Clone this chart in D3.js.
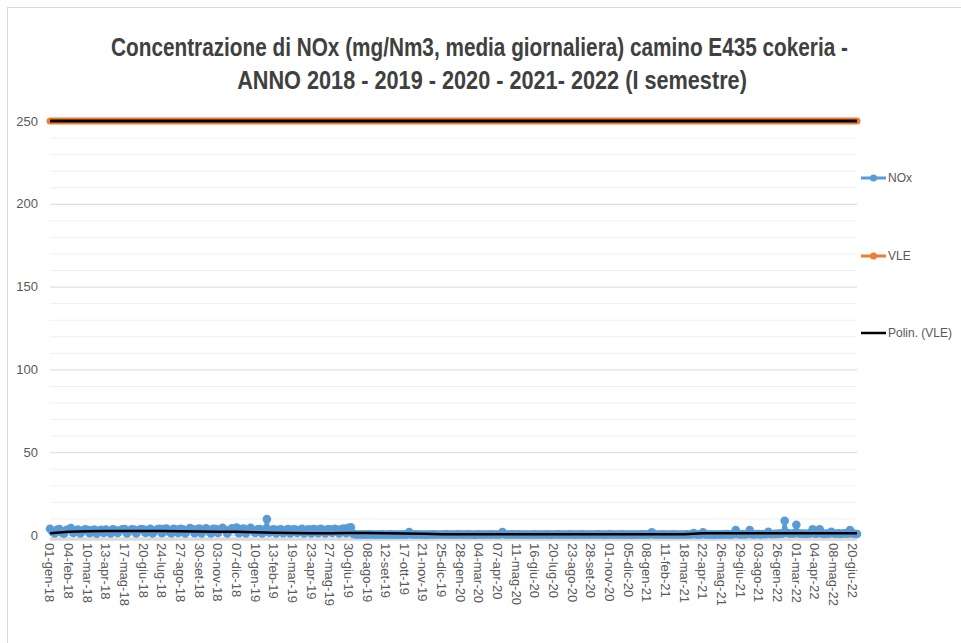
<!DOCTYPE html>
<html><head><meta charset="utf-8">
<script src="https://cdn.jsdelivr.net/npm/d3@7"></script>
<style>body{margin:0;background:#fff}svg{display:block}</style>
</head><body>
<script>
const titleLines = [
  "Concentrazione di NOx (mg/Nm3, media giornaliera) camino E435 cokeria -",
  "ANNO 2018 - 2019 - 2020 - 2021- 2022 (I semestre)"
];
const tickLabels = ["01-gen-18","04-feb-18","10-mar-18","13-apr-18","17-mag-18","20-giu-18","24-lug-18","27-ago-18","30-set-18","03-nov-18","07-dic-18","10-gen-19","13-feb-19","19-mar-19","23-apr-19","27-mag-19","30-giu-19","08-ago-19","12-set-19","17-ott-19","21-nov-19","25-dic-19","28-gen-20","04-mar-20","07-apr-20","11-mag-20","16-giu-20","20-lug-20","23-ago-20","28-set-20","01-nov-20","05-dic-20","08-gen-21","11-feb-21","18-mar-21","22-apr-21","26-mag-21","29-giu-21","03-ago-21","26-gen-22","01-mar-22","04-apr-22","08-mag-22","20-giu-22"];
const tickStep = 34;        // categories between two labels
const lastCategory = 1471;  // index of last daily category
const yTicks = [0, 50, 100, 150, 200, 250];
const seriesNames = ["NOx", "VLE", "Polin. (VLE)"];

// NOx samples, evenly spread over the categories (8 per label interval)
const noxValues = [
 3.8,2.0,0.9,3.2,3.6,1.4,0.8,3.0,  3.5,4.2,1.2,2.6,3.3,0.9,2.4,3.4,
 3.1,1.1,2.8,3.3,0.8,2.5,3.2,1.3,  3.3,2.2,0.9,3.4,3.0,1.2,2.7,3.5,
 3.6,1.0,2.4,3.5,3.3,0.9,2.9,3.6,  3.4,1.3,3.0,3.7,1.0,2.6,3.5,3.8,
 1.1,3.6,3.9,2.1,0.9,3.7,3.3,1.2,  3.8,3.5,1.0,2.9,4.2,3.6,1.1,3.4,
 3.9,1.0,3.3,4.1,2.4,0.9,3.8,3.6,  1.2,3.5,4.3,3.2,1.0,2.7,4.0,3.4,
 4.5,1.1,3.6,3.9,1.0,3.2,4.4,2.6,  1.2,3.4,3.6,1.0,3.3,9.6,1.4,3.2,
 3.5,0.9,3.1,3.4,1.1,2.8,3.6,1.0,  3.3,3.5,1.2,3.0,3.7,0.9,3.2,3.4,
 1.0,3.6,3.3,1.1,3.8,3.1,0.9,3.5,  3.4,1.2,3.7,3.3,1.0,3.6,3.9,1.1,
 4.4,4.6,0.6,0.4,0.3,0.3,0.4,0.3,  0.3,0.4,0.3,0.3,0.2,0.3,0.4,0.3,
 0.3,0.3,0.4,0.3,0.3,0.2,0.3,0.3,  0.4,0.3,1.8,0.3,0.3,0.4,0.3,0.3,
 0.3,0.2,0.3,0.3,0.4,0.3,0.3,0.3,  0.3,0.3,0.4,0.3,0.2,0.3,0.3,0.4,
 0.3,0.3,0.3,0.4,0.3,0.3,0.2,0.3,  0.4,0.3,0.3,0.3,0.3,0.4,0.3,0.3,
 0.3,0.3,1.8,0.3,0.3,0.3,0.4,0.3,  0.3,0.4,0.3,0.3,0.2,0.3,0.3,0.3,
 0.4,0.3,0.3,0.3,0.3,0.4,0.3,0.2,  0.3,0.3,0.4,0.3,0.3,0.3,0.3,0.4,
 0.3,0.2,0.3,0.3,0.4,0.3,0.3,0.3,  0.3,0.3,0.3,0.4,0.3,0.3,0.2,0.3,
 0.4,0.3,0.3,0.3,0.3,0.4,0.3,0.3,  0.3,0.3,0.2,0.3,0.3,0.3,0.4,0.3,
 0.3,0.4,1.6,0.3,0.3,0.3,0.3,0.4,  0.3,0.3,0.3,0.4,0.3,0.2,0.3,0.3,
 0.3,0.4,0.3,0.3,1.2,0.3,0.3,0.4,  1.6,0.3,0.3,0.4,0.3,0.3,0.4,0.3,
 0.4,0.3,0.5,0.4,0.3,0.5,3.0,0.5,  0.4,0.5,0.4,0.6,3.0,0.5,0.4,0.6,
 0.5,0.4,0.6,0.5,2.0,0.6,0.5,0.7,  0.7,0.9,0.8,8.6,1.2,0.9,0.8,1.0,
 6.2,1.0,0.8,0.9,0.7,0.8,1.0,3.5,  0.8,0.9,3.4,0.8,0.7,0.9,0.8,2.0,
 0.9,0.8,1.0,0.7,0.9,1.0,0.8,3.0,  1.0,0.8,0.6
];
// values at each label position, plus the last category
const noxTrendValues = [1.0,1.9,2.2,2.4,2.4,2.4,2.4,2.3,2.1,2.0,1.9,1.6,1.4,1.2,1.1,1.1,1.2,1.2,1.0,0.9,0.8,0.5,
 0.4,0.4,0.4,0.4,0.4,0.4,0.4,0.4,0.4,0.4,0.4,0.4,0.4,
 1.0,1.0,1.0,1.0,1.0,1.0,1.0,1.0,1.0,1.0];
const vleValues = [250,250,250,250,250,250,250,250,250,250,250,250,250,250,250,250,250,250,250,250,250,250,250,250,250,250,250,250,250,250,250,250,250,250,250,250,250,250,250,250,250,250,250,250,250];
const vleTrendValues = [250,250,250,250,250,250,250,250,250,250,250,250,250,250,250,250,250,250,250,250,250,250,250,250,250,250,250,250,250,250,250,250,250,250,250,250,250,250,250,250,250,250,250,250,250];

const W = 961, H = 643;
const colors = {nox: "#5b9bd5", vle: "#ed7d31", trend: "#000000", grid: "#d9d9d9", gridMinor: "#efefef", text: "#595959"};
const FONT = "Liberation Sans, Arial, sans-serif";

const svg = d3.select("body").append("svg").attr("width", W).attr("height", H);
svg.append("rect").attr("x", 7.5).attr("y", 7.5).attr("width", W).attr("height", H)
  .attr("fill", "#fff").attr("stroke", "#d9d9d9");

const x = d3.scaleLinear().domain([0, lastCategory]).range([50, 857]);
const y = d3.scaleLinear().domain([0, 250]).range([535, 121]);
const sampleToCat = d3.scaleLinear().domain([0, noxValues.length - 1]).range([0, lastCategory]);
const labelPos = i => i < tickLabels.length ? i * tickStep : lastCategory;

// title (condensed by horizontal scaling to the reference widths)
const titleSpecs = [{len: 737, cx: 479.5, base: 56}, {len: 510, cx: 492, base: 89}];
titleLines.forEach((t, i) => {
  const g = svg.append("g");
  const tx = g.append("text").attr("x", 0).attr("y", 0)
    .attr("text-anchor", "middle").attr("font-family", FONT)
    .attr("font-weight", "bold").attr("font-size", 25).attr("fill", "#404040").text(t);
  const nat = tx.node().getComputedTextLength();
  const sx = Math.min(1, titleSpecs[i].len / nat);
  g.attr("transform", `translate(${titleSpecs[i].cx},${titleSpecs[i].base}) scale(${sx},1)`);
});

// gridlines
const minor = d3.range(0, 251, 10);
svg.append("g").selectAll("line").data(minor).join("line")
  .attr("x1", x(0)).attr("x2", x(lastCategory))
  .attr("y1", d => y(d) + 0.5).attr("y2", d => y(d) + 0.5)
  .attr("stroke", d => d % 50 === 0 ? colors.grid : colors.gridMinor).attr("stroke-width", 1);

// y axis labels
svg.append("g").selectAll("text").data(yTicks).join("text")
  .attr("x", 38).attr("y", d => y(d)).attr("dy", "0.35em").attr("text-anchor", "end")
  .attr("font-family", FONT).attr("font-size", 13)
  .attr("fill", colors.text).text(d => d);

// x axis line (light gray)
svg.append("line").attr("x1", x(0)).attr("x2", x(lastCategory))
  .attr("y1", y(0) + 4).attr("y2", y(0) + 4).attr("stroke", "#d9d9d9").attr("stroke-width", 3.5);

// x labels
svg.append("g").selectAll("text").data(tickLabels).join("text")
  .attr("transform", (d, i) => `translate(${x(i * tickStep)},${y(0) + 8}) rotate(90)`)
  .attr("dy", "0.35em").attr("text-anchor", "start")
  .attr("font-family", FONT).attr("font-size", 13)
  .attr("fill", colors.text).text(d => d);

// VLE
const lineGen = d3.line();
svg.append("path")
  .attr("d", lineGen(vleValues.map((v, i) => [x(labelPos(i)), y(v)])))
  .attr("fill", "none").attr("stroke", colors.vle).attr("stroke-width", 7).attr("stroke-linecap", "round");
svg.append("path")
  .attr("d", lineGen(vleTrendValues.map((v, i) => [x(labelPos(i)), y(v)])))
  .attr("fill", "none").attr("stroke", colors.trend).attr("stroke-width", 3);

// NOx series
const noxPts = noxValues.map((v, i) => [x(sampleToCat(i)), y(v)]);
svg.append("path").attr("d", lineGen(noxPts))
  .attr("fill", "none").attr("stroke", colors.nox).attr("stroke-width", 3).attr("stroke-linejoin", "round");
svg.append("g").selectAll("circle").data(noxPts).join("circle")
  .attr("cx", d => d[0]).attr("cy", d => d[1]).attr("r", 4.3).attr("fill", colors.nox);

// bottom trend line
svg.append("path")
  .attr("d", lineGen(noxTrendValues.map((v, i) => [x(labelPos(i)), y(v)])))
  .attr("fill", "none").attr("stroke", colors.trend).attr("stroke-width", 2.5);

// legend
const legY = [178, 256, 333];
const leg = svg.append("g");
seriesNames.forEach((name, i) => {
  const col = i === 0 ? colors.nox : i === 1 ? colors.vle : colors.trend;
  leg.append("line").attr("x1", 861).attr("x2", 886).attr("y1", legY[i]).attr("y2", legY[i])
    .attr("stroke", col).attr("stroke-width", i === 2 ? 2.5 : 3);
  if (i < 2) leg.append("circle").attr("cx", 873.5).attr("cy", legY[i]).attr("r", 3.5).attr("fill", col);
  leg.append("text").attr("x", 888).attr("y", legY[i]).attr("dy", "0.35em")
    .attr("font-family", FONT).attr("font-size", 12)
    .attr("fill", colors.text).text(name);
});
</script>
</body></html>
